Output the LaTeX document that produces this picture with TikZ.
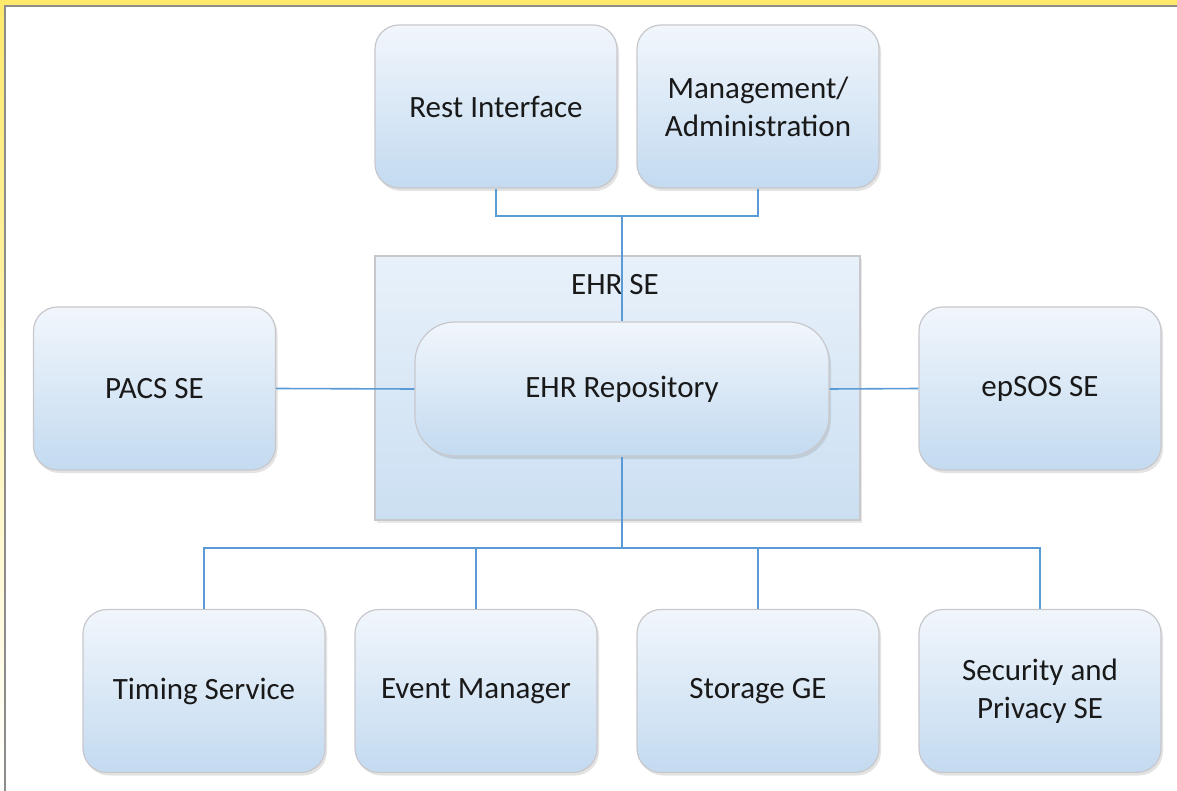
\documentclass[tikz,border=0pt]{standalone}
\usepackage{fontspec}
\setmainfont{Carlito}
\usetikzlibrary{shadows}

\definecolor{wireblue}{HTML}{5B9BD5}
\definecolor{boxedge}{HTML}{C8C8CC}
\definecolor{boxtop}{HTML}{F1F6FC}
\definecolor{boxbot}{HTML}{C3DAF0}
\definecolor{paneltop}{HTML}{E8F1FA}
\definecolor{panelbot}{HTML}{CBDFF2}
\definecolor{bandyellow}{HTML}{FFE96B}
\definecolor{framegray}{HTML}{8C8C8C}

\tikzset{
  unit/.style={draw=boxedge, line width=1.2pt, rounded corners=24pt,
    top color=boxtop, bottom color=boxbot,
    minimum width=242pt, minimum height=163pt, inner sep=0pt,
    align=center, text=black!90, font=\fontsize{31}{38}\selectfont,
    drop shadow={opacity=0.22, shadow xshift=2pt, shadow yshift=-3pt}},
  repo/.style={unit, rounded corners=40pt, minimum width=414pt, minimum height=134pt},
  panel/.style={draw=boxedge, line width=1.2pt, top color=paneltop, bottom color=panelbot,
    minimum width=485pt, minimum height=264pt, inner sep=0pt,
    drop shadow={opacity=0.18, shadow xshift=2pt, shadow yshift=-3pt}},
  label/.style={text=black!90, font=\fontsize{31}{38}\selectfont},
  wire/.style={draw=wireblue, line width=1.6pt}
}

\begin{document}
\begin{tikzpicture}[x=1pt, y=-1pt]
  % page and frame
  \useasboundingbox (0,0) rectangle (1177,791);
  \fill[white] (0,0) rectangle (1177,791);
  \shade[top color=bandyellow, bottom color=white] (0,0) rectangle (5,791);
  \fill[bandyellow] (0,0) rectangle (1177,5);
  \draw[framegray, line width=1.6pt] (5,791) -- (5,6) -- (1177,6);

  % EHR SE container
  \node[panel] (ehrse) at (617.5,388) {};
  \node[label] (ehrselabel) at (615,285) {EHR SE};

  % top row
  \node[unit] (rest) at (496,106.5) {Rest Interface};
  \node[unit] (mgmt) at (758,106.5) {Management/\\Administration};

  % middle row
  \node[unit] (pacs) at (154.5,388.5) {PACS SE};
  \node[repo] (repo) at (622,389) {EHR Repository};
  \node[unit] (epsos) at (1040,388.5) {epSOS SE};

  % bottom row
  \node[unit] (timing) at (204,691) {Timing Service};
  \node[unit] (event) at (476,691) {Event Manager};
  \node[unit] (storage) at (758,691) {Storage GE};
  \node[unit] (security) at (1040,691) {Security and\\Privacy SE};

  % junction points
  \coordinate (topbus) at (622,216);
  \coordinate (lowbus) at (622,548);

  % connectors
  \draw[wire] (rest.south) |- (topbus) -| (mgmt.south);
  \draw[wire] (topbus) -- (repo.north);
  \draw[wire] (pacs.east) -- (repo.west);
  \draw[wire] (repo.east) -- (epsos.west);
  \draw[wire] (repo.south) -- (lowbus);
  \draw[wire] (timing.north) |- (lowbus) -| (security.north);
  \draw[wire] (event.north) |- (lowbus);
  \draw[wire] (storage.north) |- (lowbus);
\end{tikzpicture}
\end{document}
